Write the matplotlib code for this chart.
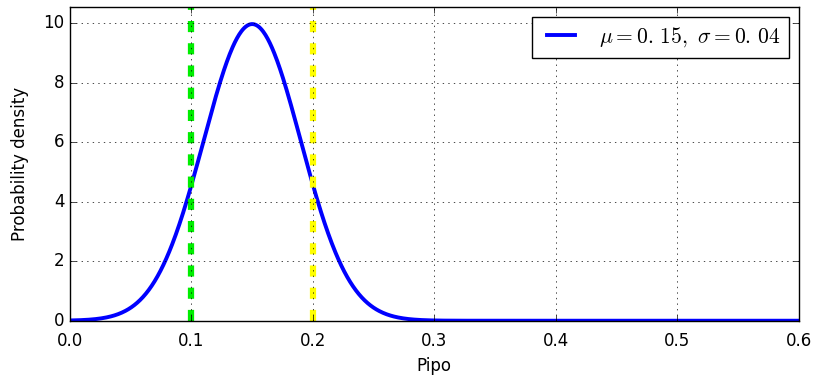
import numpy as np
import matplotlib
matplotlib.use("Agg")
import matplotlib.pyplot as plt

plt.style.use("classic")

# distribution parameters and marker positions
mu = 0.15
sigma = 0.04
lower_mark = 0.1
upper_mark = 0.2
x_ticks = [0.0, 0.1, 0.2, 0.3, 0.4, 0.5, 0.6]
y_ticks = [0, 2, 4, 6, 8, 10]

x = np.linspace(0.0, 0.6, 1000)
pdf = np.exp(-0.5 * ((x - mu) / sigma) ** 2) / (sigma * np.sqrt(2 * np.pi))

fig = plt.figure(figsize=(8.16, 3.8), dpi=100, facecolor="white")
ax = fig.add_axes([0.0858, 0.156, 0.893, 0.825])

ax.plot(x, pdf, color="blue", lw=2.8,
        label=r"$\mu=0.\,15,\ \sigma=0.\,04$")
ax.axvline(lower_mark, color="#00ee00", lw=4.5, ls="--", dashes=(8, 8))
ax.axvline(upper_mark, color="yellow", lw=4.5, ls="--", dashes=(8, 8))

ax.set_xlim(0.0, 0.6)
ax.set_ylim(0, 10.54)
ax.set_xticks(x_ticks)
ax.set_yticks(y_ticks)
ax.tick_params(axis="x", pad=8)
ax.grid(True, color="black", linestyle=":")
ax.set_xlabel("Pipo", labelpad=5)
ax.set_ylabel("Probability density", labelpad=10)
ax.legend(loc="upper right", fontsize=15.5, handlelength=1.9,
          borderaxespad=0.45)

fig.savefig("out.png", dpi=100, facecolor="white")
